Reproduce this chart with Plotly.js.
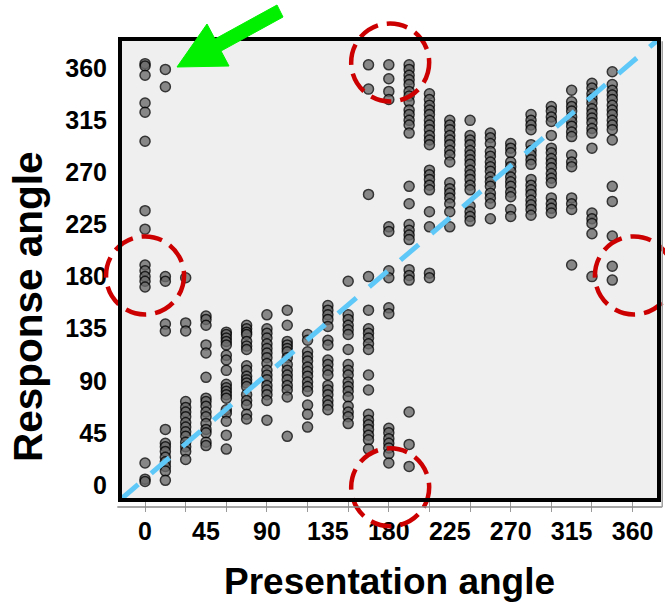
<!DOCTYPE html>
<html>
<head>
<meta charset="utf-8">
<script src="https://cdn.plot.ly/plotly-3.0.1.min.js"></script>
<style>
  html, body { margin: 0; padding: 0; background: #ffffff; }
  #chart { width: 665px; height: 602px; }
</style>
</head>
<body>
<div id="chart"></div>
<script>
// ---- Data ----
// Presentation angles of the stimulus columns (degrees)
const presentationAngles = [0, 15, 30, 45, 60, 75, 90, 105, 120, 135, 150, 165,
                            180, 195, 210, 225, 240, 255, 270, 285, 300, 315, 330, 345];

// Response angles for each presentation angle (degrees)
const responses000 = [364, 362, 354, 330, 322, 297, 237, 221, 190, 185, 180, 176, 171, 19, 5, 3];
const responses015 = [359, 344, 180, 176, 139, 133, 48, 36, 33, 29, 24, 20, 16, 12, 4];
const responses030 = [179, 140, 133, 72, 67, 63, 59, 54, 50, 46, 42, 37, 33, 29, 22];
const responses045 = [146, 143, 138, 121, 114, 93, 75, 72, 68, 63, 59, 53, 48, 45, 37, 34];
const responses060 = [132, 130, 127, 124, 121, 112, 108, 99, 87, 84, 81, 78, 75, 65, 62, 55, 43, 31];
const responses075 = [138, 135, 132, 130, 124, 120, 117, 103, 99, 94, 91, 88, 85, 78, 73, 69, 61, 57];
const responses090 = [147, 135, 131, 127, 122, 118, 114, 110, 105, 99, 95, 91, 86, 82, 78, 73, 56];
const responses105 = [151, 138, 124, 121, 118, 115, 110, 104, 99, 95, 91, 86, 82, 76, 42];
const responses120 = [130, 125, 115, 111, 107, 102, 98, 94, 89, 85, 81, 69, 61, 50];
const responses135 = [155, 151, 147, 143, 137, 125, 121, 108, 104, 99, 95, 86, 82, 78, 73, 69, 65];
const responses150 = [176, 147, 143, 138, 134, 130, 117, 104, 99, 95, 89, 85, 81, 76, 68, 63, 59, 53];
const responses165 = [363, 342, 251, 180, 151, 135, 131, 127, 122, 117, 95, 82, 61, 56, 52, 48, 43, 39, 31];
const responses180 = [363, 351, 340, 333, 223, 219, 185, 179, 153, 148, 49, 45, 40, 36, 32, 27, 19];
const responses195 = [363, 359, 354, 350, 346, 340, 336, 331, 324, 320, 315, 311, 304, 258, 243, 225, 220, 216, 212, 186, 181, 177, 63, 35, 16];
const responses210 = [338, 333, 328, 324, 320, 315, 311, 307, 302, 298, 294, 272, 268, 264, 259, 255, 236, 223, 183, 179];
const responses225 = [315, 311, 307, 302, 298, 294, 289, 285, 279, 261, 256, 252, 248, 243, 236, 223];
const responses240 = [315, 302, 298, 294, 289, 285, 281, 277, 272, 268, 264, 259, 255, 241, 236, 232, 228];
const responses255 = [304, 300, 295, 288, 284, 279, 275, 271, 266, 262, 258, 252, 248, 243, 230];
const responses270 = [295, 291, 287, 279, 275, 271, 266, 262, 258, 253, 249, 238, 232];
const responses285 = [320, 315, 311, 307, 294, 289, 285, 281, 277, 264, 259, 255, 251, 246, 242, 238, 233];
const responses300 = [327, 323, 318, 314, 302, 291, 287, 282, 278, 274, 269, 265, 261, 248, 243, 239, 235];
const responses315 = [341, 331, 327, 323, 318, 314, 310, 305, 301, 285, 279, 275, 248, 243, 238, 190];
const responses330 = [347, 343, 338, 334, 330, 325, 321, 317, 313, 308, 304, 291, 235, 230, 226, 217, 180];
const responses345 = [357, 346, 341, 337, 333, 328, 324, 320, 315, 311, 307, 298, 258, 245, 215, 189, 177];

const responseColumns = [responses000, responses015, responses030, responses045, responses060,
  responses075, responses090, responses105, responses120, responses135, responses150, responses165,
  responses180, responses195, responses210, responses225, responses240, responses255, responses270,
  responses285, responses300, responses315, responses330, responses345];

// Axis tick labels
const xTickLabels = [0, 45, 90, 135, 180, 225, 270, 315, 360];
const yTickLabels = [0, 45, 90, 135, 180, 225, 270, 315, 360];

// Highlighted regions (centres of the dashed red rings, in degrees)
const ringCentresX = [181, 0, 181, 361];
const ringCentresY = [365, 181, -2, 181];

// ---- Build traces ----
const xs = [], ys = [];
presentationAngles.forEach((p, i) => {
  responseColumns[i].forEach(r => { xs.push(p); ys.push(r); });
});

const xRange = [-18.5, 379.5];
const yRange = [-13, 385.3];
const FONT = 'Liberation Sans, Arial, Helvetica, sans-serif';

const points = {
  type: 'scatter', mode: 'markers', x: xs, y: ys, xaxis: 'x', yaxis: 'y',
  marker: { size: 10, color: '#6a6a6a', opacity: 0.78, line: { color: '#000000', width: 1.5 } },
  hoverinfo: 'x+y', showlegend: false
};
const labelAxisTrace = { type: 'scatter', mode: 'markers', x: [], y: [], xaxis: 'x2', yaxis: 'y', showlegend: false };

const toPaperX = v => (v - xRange[0]) / (xRange[1] - xRange[0]);
const toPaperY = v => (v - yRange[0]) / (yRange[1] - yRange[0]);

const shapes = [];
// diagonal reference line (corner to corner)
shapes.push({ type: 'line', xref: 'paper', yref: 'paper', x0: 0, y0: 0, x1: 1, y1: 1,
  line: { color: '#5ec8f8', width: 5, dash: '24px,17px' } });
// red dashed rings
ringCentresX.forEach((cx, i) => {
  shapes.push({ type: 'circle', xref: 'paper', yref: 'paper',
    xsizemode: 'pixel', ysizemode: 'pixel',
    xanchor: toPaperX(cx), yanchor: toPaperY(ringCentresY[i]),
    x0: -39, x1: 39, y0: -39, y1: 39,
    line: { color: '#cc0000', width: 4.5, dash: '21px,9px' } });
});
// grey shadow lines of the frame
shapes.push({ type: 'line', xref: 'paper', yref: 'paper', x0: -0.005, x1: 1.006, y0: -0.015, y1: -0.015,
  line: { color: '#8a8a8a', width: 1.5 } });
shapes.push({ type: 'line', xref: 'paper', yref: 'paper', x0: 1.006, x1: 1.006, y0: -0.015, y1: 0.995,
  line: { color: '#a0a0a0', width: 1.5 } });
// black frame
shapes.push({ type: 'rect', xref: 'paper', yref: 'paper', x0: 0, x1: 1, y0: 0, y1: 1,
  line: { color: '#000000', width: 4 } });
// green arrow (pixel path anchored at the top-left corner of the plot)
shapes.push({ type: 'path', xref: 'paper', yref: 'paper', xsizemode: 'pixel', ysizemode: 'pixel',
  xanchor: 0, yanchor: 1,
  path: 'M57,-28 L109,-27 L101,-12 L163,22 L157,34 L95,0 L87,15 Z',
  fillcolor: '#00f000', line: { color: '#00f000', width: 1 } });

const layout = {
  width: 665, height: 602,
  margin: { l: 120, r: 6, t: 39, b: 102 },
  paper_bgcolor: '#ffffff', plot_bgcolor: '#efefef',
  showlegend: false,
  xaxis: {
    range: xRange, showgrid: false, zeroline: false, showline: false,
    tickmode: 'linear', tick0: 0, dtick: 30, ticks: 'outside', ticklen: 11,
    tickcolor: '#9a9a9a', tickwidth: 1, showticklabels: false
  },
  xaxis2: {
    overlaying: 'x', anchor: 'y', side: 'bottom', range: xRange,
    showgrid: false, zeroline: false, showline: false, ticks: '',
    tickmode: 'array', tickvals: xTickLabels, ticktext: xTickLabels.map(String),
    tickfont: { family: FONT, size: 25, color: '#000000', weight: 'bold' },
    ticklabelstandoff: 14,
    title: { text: 'Presentation angle', standoff: 26,
      font: { family: FONT, size: 37, color: '#000000', weight: 'bold' } }
  },
  yaxis: {
    range: yRange, showgrid: false, zeroline: false, showline: false, ticks: '',
    tickmode: 'array', tickvals: yTickLabels, ticktext: yTickLabels.map(String),
    tickfont: { family: FONT, size: 25, color: '#000000', weight: 'bold' },
    ticklabelstandoff: 12
  },
  shapes: shapes,
  annotations: [{
    text: 'Response angle', textangle: -90, showarrow: false,
    xref: 'paper', yref: 'paper', x: -0.1707, y: 0.4208, xanchor: 'center', yanchor: 'middle',
    font: { family: FONT, size: 40.5, color: '#000000', weight: 'bold' }
  }]
};

Plotly.newPlot('chart', [points, labelAxisTrace], layout, { displayModeBar: false, staticPlot: true });
</script>
</body>
</html>
